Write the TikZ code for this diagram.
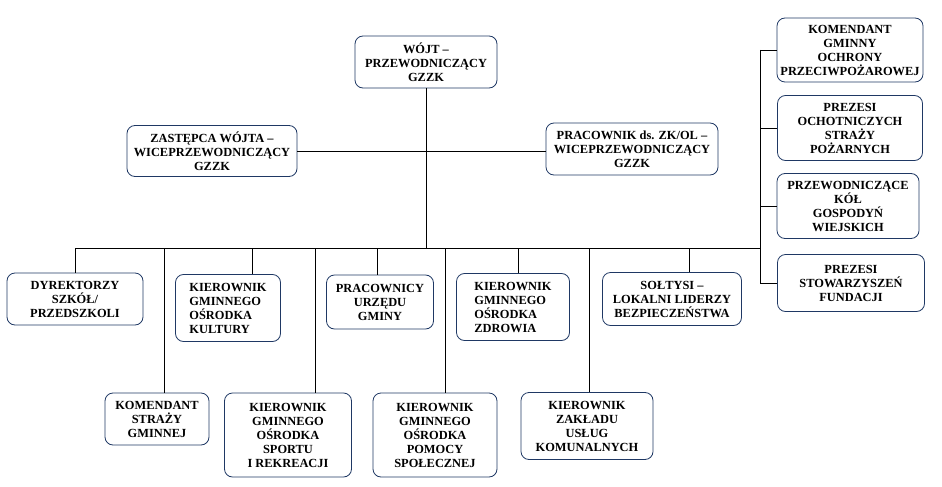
\documentclass[tikz,border=0pt]{standalone}
\usepackage{fontspec}
\setmainfont{Liberation Serif}
\definecolor{ramka}{HTML}{1F3864}

\begin{document}
\begin{tikzpicture}[x=1pt,y=-1pt,
		box/.style={draw=ramka,line width=0.8pt,rounded corners=8pt,align=center,inner sep=2pt,
			font=\bfseries\fontsize{12.4}{14}\selectfont},
		lin/.style={black,line width=0.75pt}]
	\useasboundingbox (0,0) rectangle (942,487);
	% kierownictwo zespołu
	\node[box,minimum width=142pt,minimum height=52pt] (wojt) at (426,62) {WÓJT –\\PRZEWODNICZĄCY\\GZZK};
	\node[box,minimum width=170pt,minimum height=51pt] (zastepca) at (212,151) {ZASTĘPCA WÓJTA –\\WICEPRZEWODNICZĄCY\\GZZK};
	\node[box,minimum width=172pt,minimum height=52pt] (pracownik) at (632,149) {PRACOWNIK ds. ZK/OL –\\WICEPRZEWODNICZĄCY\\GZZK};
	% kolumna po prawej
	\node[box,minimum width=146pt,minimum height=64pt] (komendant) at (850,50) {KOMENDANT\\GMINNY\\OCHRONY\\PRZECIWPOŻAROWEJ};
	\node[box,minimum width=145pt,minimum height=65pt] (osp) at (850,128) {PREZESI\\OCHOTNICZYCH\\STRAŻY\\POŻARNYCH};
	\node[box,minimum width=142pt,minimum height=65pt] (kgw) at (848,206) {PRZEWODNICZĄCE\\KÓŁ\\GOSPODYŃ\\WIEJSKICH};
	\node[box,minimum width=147pt,minimum height=57pt] (stow) at (851,283) {PREZESI\\STOWARZYSZEŃ\\FUNDACJI};
	% górny rząd
	\node[box,minimum width=136pt,minimum height=52pt] (dyrektorzy) at (75,299) {DYREKTORZY\\SZKÓŁ/\\PRZEDSZKOLI};
	\node[box,align=left,minimum width=105pt,minimum height=67pt] (kultura) at (228,308) {KIEROWNIK\\GMINNEGO\\OŚRODKA\\KULTURY};
	\node[box,minimum width=107pt,minimum height=54pt] (urzad) at (380,302) {PRACOWNICY\\URZĘDU\\GMINY};
	\node[box,align=left,minimum width=113pt,minimum height=67pt] (zdrowie) at (513,307) {KIEROWNIK\\GMINNEGO\\OŚRODKA\\ZDROWIA};
	\node[box,minimum width=139pt,minimum height=53pt] (soltysi) at (672,299) {SOŁTYSI –\\LOKALNI LIDERZY\\BEZPIECZEŃSTWA};
	% dolny rząd
	\node[box,minimum width=104pt,minimum height=52pt] (straz) at (157,419) {KOMENDANT\\STRAŻY\\GMINNEJ};
	\node[box,minimum width=127pt,minimum height=84pt] (sport) at (288,435) {KIEROWNIK\\GMINNEGO\\OŚRODKA\\SPORTU\\I REKREACJI};
	\node[box,minimum width=124pt,minimum height=84pt] (pomoc) at (435,435) {KIEROWNIK\\GMINNEGO\\OŚRODKA\\POMOCY\\SPOŁECZNEJ};
	\node[box,minimum width=132pt,minimum height=67pt] (zaklad) at (587,426) {KIEROWNIK\\ZAKŁADU\\USŁUG\\KOMUNALNYCH};
	% linia zbiorcza i pion po prawej
	\coordinate (busL) at (76,248);
	\coordinate (busR) at (760,248);
	\draw[lin] (busL) -- (busR);
	\draw[lin] (wojt.south) -- (wojt.south |- busL);
	\draw[lin] (zastepca.east) -- (zastepca.east -| pracownik.west);
	\draw[lin] (komendant.west -| busR) -- (stow.west -| busR);
	\draw[lin] (komendant.west) -- (komendant.west -| busR);
	\draw[lin] (osp.west) -- (osp.west -| busR);
	\draw[lin] (kgw.west) -- (kgw.west -| busR);
	\draw[lin] (stow.west) -- (stow.west -| busR);
	% odgałęzienia do górnego rzędu
	\draw[lin] (dyrektorzy.north) -- (dyrektorzy.north |- busL);
	\draw[lin] ([xshift=24pt]kultura.north) -- ([xshift=24pt]kultura.north |- busL);
	\draw[lin] ([xshift=-3pt]urzad.north) -- ([xshift=-3pt]urzad.north |- busL);
	\draw[lin] ([xshift=5pt]zdrowie.north) -- ([xshift=5pt]zdrowie.north |- busL);
	\draw[lin] ([xshift=17pt]soltysi.north) -- ([xshift=17pt]soltysi.north |- busL);
	% odgałęzienia do dolnego rzędu
	\draw[lin] ([xshift=7pt]straz.north) -- ([xshift=7pt]straz.north |- busL);
	\draw[lin] ([xshift=27pt]sport.north) -- ([xshift=27pt]sport.north |- busL);
	\draw[lin] ([xshift=10pt]pomoc.north) -- ([xshift=10pt]pomoc.north |- busL);
	\draw[lin] ([xshift=2pt]zaklad.north) -- ([xshift=2pt]zaklad.north |- busL);
\end{tikzpicture}
\end{document}
